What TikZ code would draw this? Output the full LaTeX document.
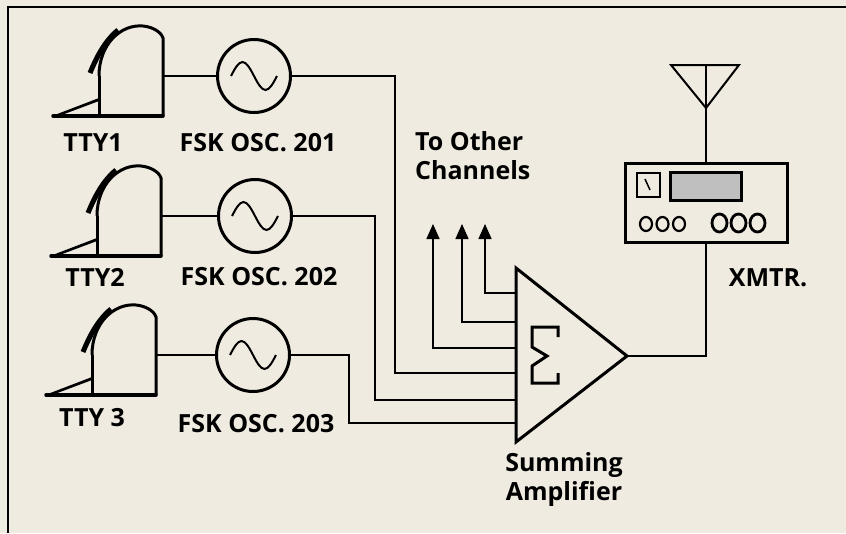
\documentclass[tikz,border=0pt]{standalone}
\usepackage{fontspec}
\setmainfont{Open Sans}
\usetikzlibrary{arrows.meta,calc}
\definecolor{paper}{RGB}{239,235,224}
\begin{document}
\begin{tikzpicture}[x=1pt,y=-1pt,
  lbl/.style={font=\fontsize{25}{29}\selectfont\bfseries, inner sep=0pt},
  wire/.style={line width=1.6pt},
  heavy/.style={line width=3pt},
  osc/.style={circle, draw, line width=3pt, minimum size=73pt, inner sep=0pt},
  arr/.style={line width=1.6pt, -{Triangle[width=13pt,length=15pt]}},
  tty/.pic={
    \draw[heavy, line join=round] (0,-40) .. controls (0,-72) and (22,-92) .. (44,-90)
        .. controls (54,-89) and (62,-84) .. (64,-78) -- (64,0);
    \draw[heavy] (0,0) -- (0,-40);
    \draw[line width=3.5pt, line cap=round] (-46,0) -- (64,0);
    \fill (-47,0) -- (0,-18) -- (0,-15) -- (-40,0) -- cycle;
    \draw[line width=5pt] (-9,-43) .. controls (-2,-60) and (6,-75) .. (19,-86);
    \coordinate (-out) at (64,-40);
  }]
\useasboundingbox (0,0) rectangle (846,533);
\fill[paper] (0,0) rectangle (846,533);
% frame
\draw[line width=2pt] (8,533) -- (8,7) -- (846,7);

% teletypes
\pic (t1) at (99,116) {tty};
\pic (t2) at (97,256) {tty};
\pic (t3) at (92,395) {tty};

% oscillators
\node[osc] (o1) at (254,76) {};
\node[osc] (o2) at (255,216) {};
\node[osc] (o3) at (253,355) {};
\foreach \o in {o1,o2,o3}{
  \draw[line width=2pt] (\o.center) ++(-23,0) sin ++(11.5,-14) cos ++(11.5,14)
        sin ++(11.5,14) cos ++(11.5,-14);
}
\draw[wire] (t1-out) -- (o1);
\draw[wire] (t2-out) -- (o2);
\draw[wire] (t3-out) -- (o3);

% labels
\node[lbl] (lt1) at (93,143) {TTY1};
\node[lbl] (lo1) at (258,143) {FSK OSC. 201};
\node[lbl] (lt2) at (95,277) {TTY2};
\node[lbl] (lo2) at (259,277) {FSK OSC. 202};
\node[lbl] (lt3) at (92,418) {TTY 3};
\node[lbl] (lo3) at (256,424) {FSK OSC. 203};

% summing amplifier
\coordinate (ampT) at (516,268);
\coordinate (ampB) at (516,442);
\coordinate (ampO) at (627,356);
\draw[heavy, line join=miter] (ampT) -- (ampO) -- (ampB) -- cycle;
\draw[line width=3pt, line join=miter] (558,337) -- (558,327) -- (532,327) -- (532,347)
   -- (547,356) -- (532,366) -- (532,383) -- (558,383) -- (558,373);
\coordinate (in1) at (516,293);
\coordinate (in2) at (516,322);
\coordinate (in3) at (516,348);
\coordinate (in4) at (516,373);
\coordinate (in5) at (516,400);
\coordinate (in6) at (516,423);
\coordinate (x1) at (395,0);
\coordinate (x2) at (375,0);
\coordinate (x3) at (349,0);
\draw[wire] (o1.east) -| (x1 |- in4) -- (in4);
\draw[wire] (o2.east) -| (x2 |- in5) -- (in5);
\draw[wire] (o3.east) -| (x3 |- in6) -- (in6);

% to other channels
\coordinate (a1) at (433,224);
\coordinate (a2) at (462,224);
\coordinate (a3) at (485,224);
\draw[arr] (in3) -| (a1);
\draw[arr] (in2) -| (a2);
\draw[arr] (in1) -| (a3);
\node[lbl, anchor=west, align=left] (lch) at (415,156) {To Other\\Channels};

\node[lbl, align=center] (lsum) at (564,479) {Summing\\Amplifier};

% transmitter
\node[draw, line width=3pt, minimum width=162pt, minimum height=79pt, inner sep=0pt] (xmtr) at (706,202.5) {};
\draw[line width=1.5pt] (637,173) rectangle (660,197);
\draw[line width=1.5pt] (645,179) -- (650,190);
\draw[line width=3pt, fill=black!25] (670,172) rectangle (741,200);
\foreach \cx in {646,662.5,679}{ \draw[line width=2.2pt] (\cx,224) ellipse (6pt and 7pt); }
\foreach \cx in {719.5,738.5,757.5}{ \draw[line width=2.8pt] (\cx,223) ellipse (7.5pt and 9pt); }
\draw[wire] (ampO) -| (xmtr.south);
\node[lbl] (lx) at (768,278) {XMTR.};

% antenna
\coordinate (ant) at (706,65);
\draw[line width=2pt, line join=miter] (671,65) -- (739,65) -- (706,108) -- cycle;
\draw[wire] (xmtr.north) -- (ant);
\end{tikzpicture}
\end{document}
